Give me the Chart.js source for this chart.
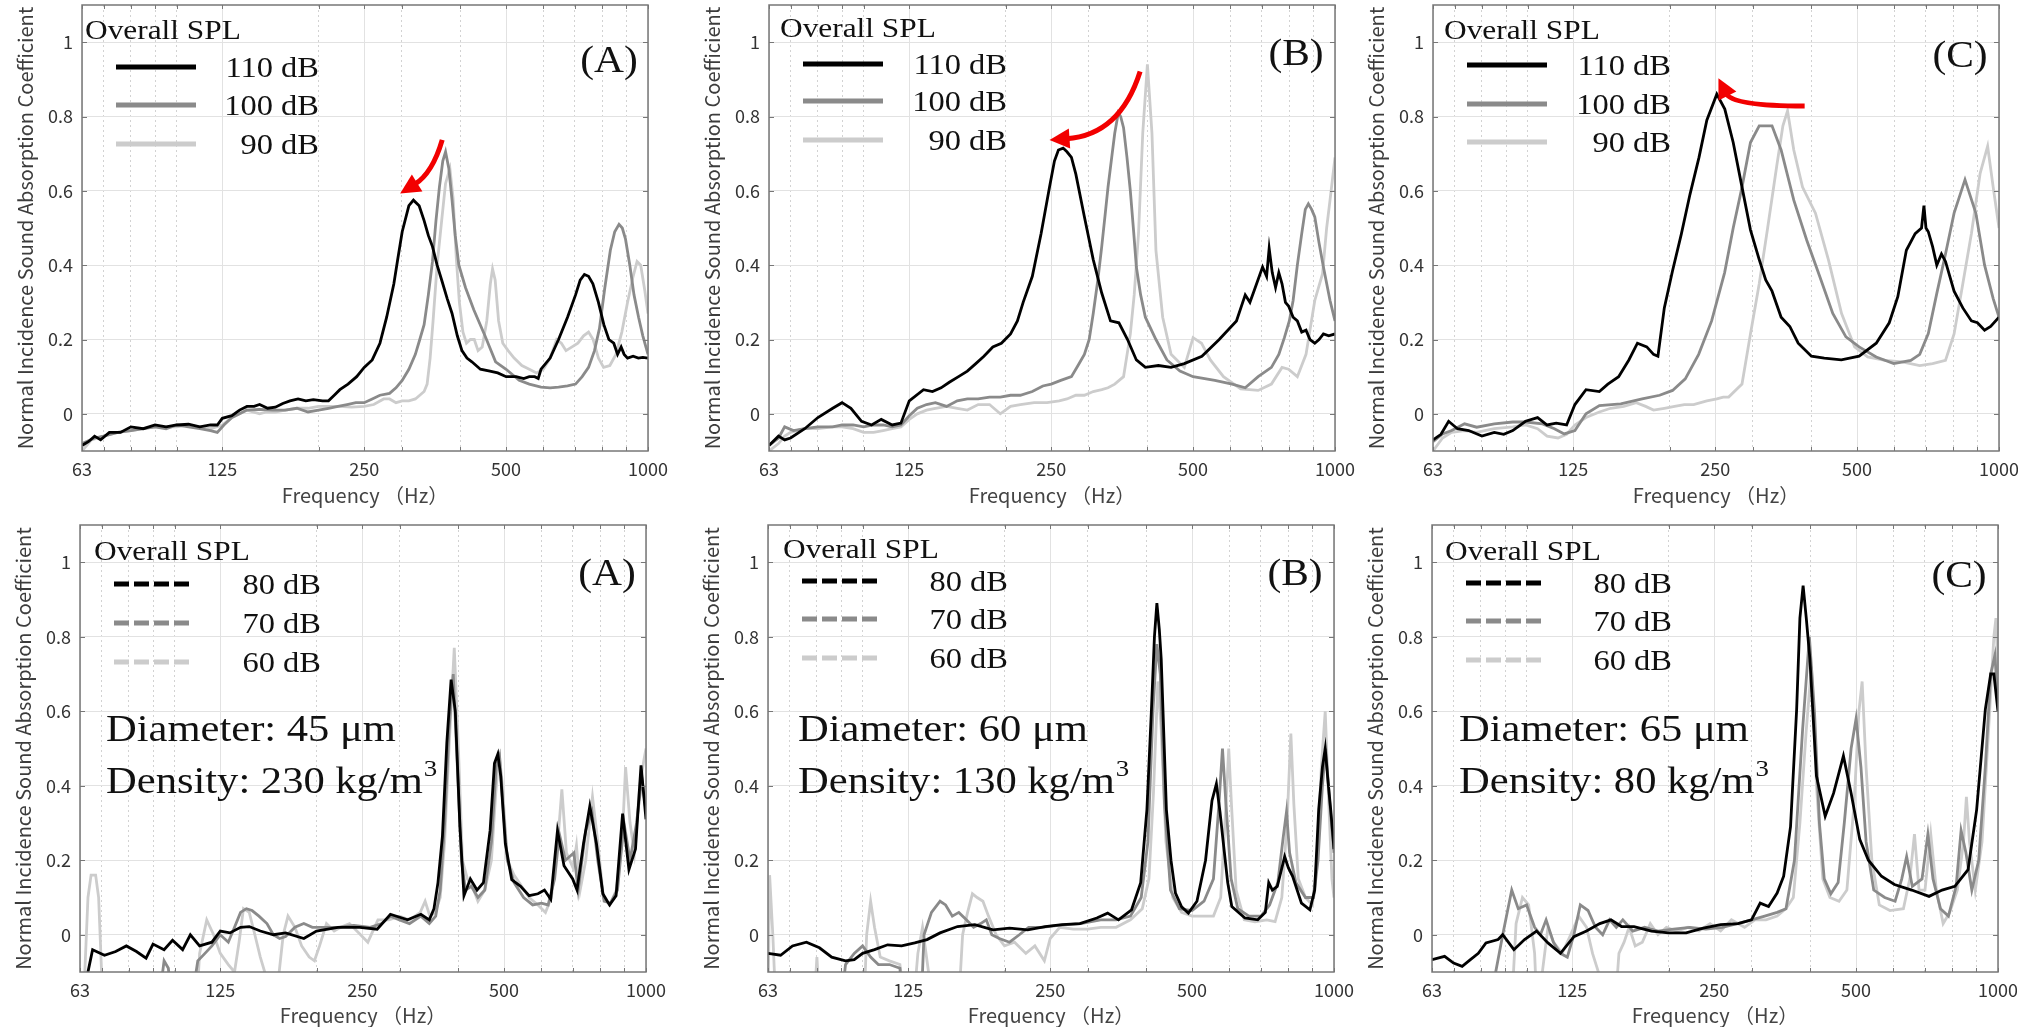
<!DOCTYPE html>
<html>
<head>
<meta charset="utf-8">
<script src="https://cdn.jsdelivr.net/npm/chart.js@4.4.0/dist/chart.umd.min.js"></script>
<style>
  html, body { margin: 0; padding: 0; background: #fff; overflow: hidden; width: 2018px; height: 1027px; }
  .panel { position: absolute; }
</style>
</head>
<body>
<div class="panel" id="p0"><canvas id="c0"></canvas></div>
<div class="panel" id="p1"><canvas id="c1"></canvas></div>
<div class="panel" id="p2"><canvas id="c2"></canvas></div>
<div class="panel" id="p3"><canvas id="c3"></canvas></div>
<div class="panel" id="p4"><canvas id="c4"></canvas></div>
<div class="panel" id="p5"><canvas id="c5"></canvas></div>
<script>
// ---- axes ----
const xTicks = [63, 70, 80, 90, 100, 125, 200, 250, 300, 400, 500, 600, 700, 800, 900, 1000];
const xLabels = [63, 125, 250, 500, 1000];
const yTicks = [0, 0.2, 0.4, 0.6, 0.8, 1];

const topNames = ['110 dB', '100 dB', '90 dB'];
const bottomNames = ['80 dB', '70 dB', '60 dB'];
const letters = ['(A)', '(B)', '(C)'];
const diameters = ['Diameter: 45 \u03bcm', 'Diameter: 60 \u03bcm', 'Diameter: 65 \u03bcm'];
const densities = ['Density: 230 kg/m', 'Density: 130 kg/m', 'Density: 80 kg/m'];

// ---- data: [frequency Hz, absorption coefficient] ----
// top row, high level (A)
const tA110 = [[63,-0.085],[65,-0.075],[67,-0.06],[69,-0.07],[72,-0.05],[76,-0.05],[80,-0.035],[85,-0.04],[90,-0.03],[95,-0.035],[100,-0.03],[106,-0.028],[112,-0.035],[118,-0.03],[122,-0.03],[125,-0.012],[131,-0.005],[136,0.01],[141,0.02],[146,0.02],[150,0.025],[156,0.015],[162,0.018],[168,0.028],[174,0.035],[181,0.04],[188,0.035],[195,0.038],[204,0.035],[210,0.035],[216,0.05],[222,0.065],[231,0.08],[241,0.1],[250,0.125],[260,0.145],[270,0.19],[279,0.26],[289,0.35],[294,0.41],[301,0.49],[311,0.56],[318,0.575],[327,0.56],[335,0.52],[342,0.48],[349,0.45],[357,0.4],[365,0.36],[375,0.31],[384,0.27],[394,0.21],[403,0.17],[413,0.15],[423,0.14],[441,0.12],[462,0.115],[480,0.11],[500,0.1],[525,0.1],[545,0.095],[560,0.1],[575,0.1],[585,0.095],[593,0.12],[620,0.15],[646,0.2],[675,0.26],[702,0.32],[718,0.36],[733,0.375],[748,0.37],[764,0.35],[785,0.3],[806,0.24],[826,0.2],[846,0.19],[862,0.16],[877,0.18],[890,0.16],[905,0.15],[930,0.155],[954,0.15],[975,0.152],[1000,0.15]];
const tA100 = [[63,-0.08],[67,-0.065],[70,-0.06],[75,-0.05],[80,-0.045],[85,-0.04],[90,-0.035],[95,-0.04],[100,-0.03],[106,-0.035],[112,-0.04],[118,-0.045],[122,-0.05],[126,-0.03],[131,-0.01],[136,0.0],[141,0.01],[150,0.012],[160,0.01],[170,0.01],[180,0.015],[190,0.005],[200,0.01],[210,0.015],[220,0.02],[230,0.025],[240,0.03],[250,0.03],[260,0.04],[270,0.05],[283,0.055],[292,0.07],[301,0.09],[311,0.12],[321,0.16],[328,0.2],[335,0.24],[342,0.32],[349,0.41],[355,0.52],[361,0.61],[367,0.68],[372,0.705],[378,0.66],[384,0.575],[390,0.48],[397,0.4],[410,0.34],[427,0.28],[451,0.21],[475,0.14],[500,0.12],[533,0.09],[560,0.08],[593,0.072],[620,0.07],[646,0.072],[675,0.075],[702,0.08],[725,0.1],[748,0.125],[770,0.17],[789,0.23],[810,0.34],[832,0.44],[850,0.49],[868,0.51],[882,0.5],[896,0.47],[915,0.4],[934,0.32],[955,0.26],[975,0.21],[1000,0.16]];
const tA90 = [[63,-0.1],[66,-0.07],[70,-0.06],[75,-0.05],[80,-0.045],[85,-0.04],[90,-0.035],[95,-0.035],[100,-0.035],[106,-0.03],[112,-0.035],[118,-0.04],[125,-0.03],[131,-0.01],[136,0.0],[141,0.01],[150,0.0],[155,0.005],[162,0.005],[170,0.01],[180,0.015],[190,0.015],[200,0.02],[210,0.02],[222,0.02],[235,0.018],[250,0.02],[262,0.025],[275,0.04],[283,0.04],[292,0.03],[301,0.035],[311,0.035],[321,0.04],[328,0.05],[335,0.06],[340,0.08],[345,0.15],[350,0.25],[357,0.4],[365,0.52],[372,0.62],[380,0.66],[386,0.58],[392,0.42],[398,0.3],[405,0.22],[412,0.19],[420,0.2],[428,0.2],[436,0.17],[445,0.18],[455,0.25],[463,0.35],[468,0.39],[474,0.36],[482,0.25],[492,0.19],[505,0.17],[520,0.15],[540,0.13],[560,0.12],[580,0.11],[600,0.12],[620,0.15],[640,0.2],[655,0.19],[670,0.17],[690,0.18],[710,0.19],[730,0.21],[748,0.22],[765,0.2],[785,0.15],[805,0.125],[830,0.13],[855,0.16],[880,0.22],[905,0.3],[930,0.37],[948,0.41],[965,0.4],[985,0.33],[1000,0.27]];

// top row (B)
const tB110 = [[63,-0.085],[66,-0.06],[68,-0.07],[70,-0.065],[75,-0.04],[80,-0.01],[86,0.015],[90,0.03],[94,0.015],[99,-0.02],[104,-0.03],[109,-0.015],[115,-0.03],[120,-0.025],[125,0.035],[134,0.065],[140,0.06],[146,0.07],[152,0.085],[159,0.1],[166,0.115],[173,0.135],[180,0.155],[188,0.18],[196,0.19],[205,0.215],[212,0.25],[218,0.3],[228,0.37],[238,0.485],[248,0.61],[254,0.68],[259,0.71],[265,0.715],[270,0.705],[276,0.69],[282,0.645],[294,0.53],[307,0.415],[320,0.325],[334,0.25],[348,0.245],[363,0.2],[379,0.145],[396,0.125],[422,0.13],[449,0.125],[479,0.135],[522,0.155],[568,0.2],[618,0.25],[645,0.32],[660,0.3],[673,0.33],[702,0.395],[716,0.37],[725,0.445],[736,0.38],[748,0.34],[760,0.38],[772,0.35],[785,0.3],[797,0.29],[815,0.26],[832,0.25],[850,0.22],[868,0.225],[885,0.2],[906,0.19],[925,0.2],[945,0.215],[970,0.21],[1000,0.215]];
const tB100 = [[63,-0.085],[66,-0.065],[68,-0.035],[71,-0.045],[75,-0.04],[80,-0.035],[86,-0.035],[90,-0.03],[95,-0.03],[100,-0.035],[105,-0.03],[110,-0.03],[115,-0.035],[120,-0.03],[125,-0.005],[130,0.015],[136,0.025],[142,0.03],[150,0.02],[158,0.035],[166,0.04],[175,0.04],[185,0.045],[195,0.045],[205,0.05],[215,0.05],[228,0.06],[240,0.075],[250,0.08],[262,0.09],[276,0.1],[285,0.13],[294,0.16],[301,0.2],[307,0.27],[314,0.36],[320,0.45],[325,0.53],[330,0.61],[336,0.69],[341,0.755],[347,0.81],[351,0.8],[356,0.77],[362,0.69],[368,0.6],[374,0.49],[379,0.395],[387,0.32],[396,0.26],[417,0.2],[440,0.145],[469,0.115],[500,0.1],[556,0.09],[605,0.08],[645,0.07],[687,0.1],[733,0.125],[760,0.16],[781,0.205],[800,0.25],[815,0.305],[832,0.4],[850,0.485],[865,0.55],[878,0.565],[892,0.55],[906,0.53],[925,0.46],[945,0.395],[976,0.305],[1000,0.25]];
const tB90 = [[63,-0.1],[66,-0.08],[68,-0.06],[70,-0.05],[75,-0.04],[80,-0.04],[86,-0.035],[90,-0.035],[95,-0.04],[100,-0.05],[105,-0.05],[110,-0.045],[115,-0.04],[120,-0.035],[125,-0.015],[130,0.0],[136,0.01],[142,0.015],[150,0.02],[158,0.015],[166,0.01],[175,0.025],[185,0.025],[195,0.0],[205,0.02],[215,0.025],[230,0.03],[245,0.03],[260,0.035],[270,0.04],[282,0.05],[294,0.05],[307,0.06],[320,0.065],[330,0.07],[341,0.08],[356,0.1],[368,0.215],[375,0.32],[383,0.485],[391,0.755],[400,0.94],[409,0.755],[417,0.44],[431,0.26],[449,0.16],[479,0.125],[500,0.205],[521,0.19],[544,0.145],[580,0.1],[631,0.067],[687,0.063],[733,0.08],[772,0.125],[797,0.12],[832,0.1],[868,0.16],[906,0.305],[941,0.377],[960,0.5],[976,0.575],[1000,0.69]];

// top row (C)
const tC110 = [[63,-0.07],[65.5,-0.055],[68,-0.02],[71,-0.04],[75,-0.045],[80,-0.06],[85,-0.05],[89,-0.055],[93,-0.045],[99,-0.02],[105,-0.01],[110,-0.03],[115,-0.025],[121,-0.03],[126,0.025],[133,0.065],[142,0.06],[148,0.08],[156,0.1],[164,0.145],[171,0.19],[179,0.18],[185,0.16],[189,0.155],[195,0.285],[203,0.385],[212,0.485],[221,0.59],[231,0.69],[240,0.79],[252,0.86],[262,0.82],[273,0.73],[285,0.61],[297,0.495],[310,0.415],[320,0.36],[330,0.33],[345,0.26],[360,0.235],[375,0.19],[400,0.155],[426,0.15],[463,0.145],[505,0.155],[549,0.19],[585,0.245],[610,0.315],[636,0.44],[664,0.485],[685,0.5],[693,0.56],[700,0.5],[708,0.49],[723,0.45],[738,0.4],[755,0.43],[770,0.41],[803,0.33],[838,0.285],[874,0.25],[900,0.245],[932,0.225],[960,0.235],[1000,0.26]];
const tC100 = [[63,-0.075],[66,-0.054],[69,-0.045],[73.5,-0.027],[78,-0.036],[85,-0.027],[93,-0.022],[99,-0.022],[107.6,-0.027],[114,-0.04],[119.6,-0.054],[126,-0.045],[133,0.0],[142,0.022],[157.6,0.027],[175,0.04],[190.6,0.05],[203,0.063],[216,0.094],[230.6,0.16],[245.7,0.25],[261.8,0.38],[273,0.5],[285,0.61],[297,0.73],[310,0.775],[330,0.775],[345,0.71],[367,0.575],[391,0.467],[417,0.368],[444,0.27],[473.5,0.207],[505,0.18],[549,0.153],[598,0.135],[650,0.144],[679,0.16],[708,0.216],[738,0.324],[770,0.43],[803,0.54],[847,0.63],[893,0.54],[932,0.4],[972,0.31],[1000,0.26]];
const tC90 = [[63,-0.1],[66,-0.065],[69,-0.05],[73.5,-0.045],[78,-0.05],[85,-0.04],[93,-0.035],[99,-0.03],[105,-0.04],[110,-0.06],[116,-0.065],[121,-0.055],[126,-0.03],[133,-0.01],[142,0.005],[150,0.015],[160,0.02],[170,0.03],[178,0.02],[185,0.01],[195,0.015],[205,0.02],[215,0.025],[225,0.025],[240,0.035],[252,0.04],[260,0.045],[267,0.045],[285,0.08],[297,0.215],[310,0.35],[323,0.5],[337.5,0.665],[348,0.775],[356,0.815],[367,0.71],[383,0.61],[408,0.54],[435,0.413],[463.5,0.27],[494,0.18],[526.5,0.153],[573,0.144],[623,0.14],[679,0.13],[723,0.135],[770,0.144],[803,0.215],[838,0.35],[874,0.485],[912,0.647],[946,0.72],[972,0.61],[1000,0.5]];

// bottom row (A)
const bA80 = [[63,-0.14],[65,-0.12],[67,-0.04],[71,-0.055],[75,-0.045],[79,-0.03],[83,-0.045],[87,-0.063],[90,-0.025],[95,-0.04],[99,-0.015],[104,-0.04],[108,0.0],[113,-0.03],[120,-0.02],[125,0.01],[131,0.005],[138,0.02],[144,0.022],[152,0.01],[162,0.0],[172,0.005],[188,-0.01],[200,0.01],[222,0.02],[247,0.02],[269,0.015],[287,0.055],[312,0.04],[333,0.055],[347,0.04],[355,0.07],[362,0.14],[370,0.265],[378,0.515],[386,0.685],[394,0.6],[403,0.29],[411,0.105],[424,0.15],[438,0.12],[452,0.14],[467,0.28],[477,0.46],[485,0.485],[492,0.425],[503,0.245],[519,0.148],[542,0.13],[565,0.105],[590,0.11],[609,0.12],[628,0.095],[649,0.28],[670,0.185],[699,0.15],[714,0.12],[737,0.245],[760,0.345],[785,0.245],[810,0.11],[837,0.08],[864,0.105],[892,0.325],[920,0.175],[950,0.23],[976,0.455],[1000,0.31]];
const bA70 = [[63,-0.3],[90,-0.3],[95,-0.07],[97,-0.09],[99,-0.2],[108,-0.2],[112,-0.07],[116,-0.05],[120,-0.03],[125,0.0],[130,-0.02],[134,0.02],[138,0.06],[142,0.07],[146,0.065],[151,0.05],[157,0.03],[162,0.0],[167,-0.01],[172,-0.005],[180,0.02],[188,0.03],[196,0.02],[205,0.02],[222,0.02],[240,0.025],[260,0.02],[275,0.03],[287,0.05],[300,0.04],[315,0.03],[333,0.05],[347,0.03],[358,0.05],[366,0.12],[374,0.3],[382,0.55],[390,0.7],[398,0.45],[406,0.2],[414,0.12],[426,0.13],[440,0.1],[455,0.12],[470,0.25],[481,0.45],[489,0.48],[497,0.35],[508,0.2],[525,0.14],[550,0.1],[575,0.08],[600,0.085],[620,0.08],[640,0.15],[655,0.27],[675,0.2],[703,0.22],[718,0.12],[745,0.28],[768,0.33],[790,0.2],[815,0.09],[840,0.085],[870,0.12],[898,0.3],[925,0.2],[955,0.3],[980,0.42],[1000,0.33]];
const bA60 = [[63,-0.3],[64.5,-0.1],[65.5,0.1],[66.5,0.16],[68,0.16],[69,0.1],[70,-0.1],[71,-0.3],[110,-0.3],[113,-0.05],[117,0.04],[121,0.0],[125,-0.05],[130,-0.08],[134,-0.1],[137,-0.02],[140,0.07],[144,0.06],[148,0.0],[152,-0.06],[157,-0.12],[166,-0.12],[170,0.0],[174,0.05],[180,0.02],[186,-0.03],[193,-0.06],[198,-0.07],[203,-0.03],[210,0.03],[218,0.01],[225,0.02],[235,0.03],[248,0.0],[257,-0.02],[270,0.04],[285,0.04],[300,0.05],[315,0.04],[332,0.06],[340,0.09],[348,0.05],[357,0.06],[366,0.1],[374,0.25],[382,0.5],[392,0.77],[400,0.5],[408,0.2],[418,0.15],[428,0.13],[440,0.09],[455,0.12],[470,0.2],[480,0.38],[488,0.49],[496,0.4],[508,0.2],[525,0.16],[545,0.13],[565,0.1],[590,0.08],[612,0.06],[630,0.1],[650,0.25],[663,0.39],[678,0.22],[700,0.18],[712,0.24],[725,0.12],[745,0.2],[770,0.37],[790,0.25],[812,0.1],[838,0.08],[865,0.12],[890,0.25],[905,0.45],[925,0.3],[945,0.22],[970,0.4],[990,0.47],[1000,0.5]];

// bottom row (B)
const bB80 = [[63,-0.05],[67,-0.055],[71,-0.03],[76,-0.02],[81,-0.035],[86,-0.06],[92,-0.07],[96,-0.067],[100,-0.05],[106,-0.04],[113,-0.027],[121,-0.03],[129,-0.022],[137,-0.013],[146,0.005],[159,0.022],[173,0.027],[189,0.013],[205,0.018],[224,0.013],[244,0.022],[265,0.027],[289,0.03],[314,0.045],[331,0.058],[349,0.04],[372,0.067],[389,0.14],[401,0.336],[410,0.605],[416,0.8],[421,0.89],[426,0.82],[430,0.74],[441,0.336],[451,0.2],[461,0.112],[475,0.075],[491,0.058],[512,0.09],[534,0.2],[551,0.36],[563,0.405],[573,0.33],[582,0.25],[595,0.14],[607,0.076],[647,0.045],[689,0.04],[715,0.06],[727,0.14],[740,0.12],[758,0.13],[786,0.21],[800,0.18],[817,0.157],[853,0.085],[889,0.067],[910,0.12],[928,0.336],[945,0.45],[958,0.5],[970,0.42],[985,0.33],[1000,0.23]];
const bB70 = [[63,-0.3],[88,-0.3],[92,-0.08],[96,-0.05],[100,-0.03],[104,-0.06],[108,-0.08],[114,-0.08],[120,-0.09],[124,-0.3],[132,-0.3],[135,0.0],[140,0.06],[146,0.09],[150,0.08],[155,0.05],[160,0.06],[166,0.04],[172,0.02],[178,0.03],[183,0.04],[188,0.0],[195,-0.01],[205,-0.02],[215,0.0],[225,0.02],[240,0.02],[260,0.025],[290,0.03],[320,0.04],[345,0.04],[370,0.05],[390,0.1],[403,0.25],[413,0.6],[421,0.78],[428,0.7],[437,0.35],[450,0.12],[470,0.07],[500,0.065],[530,0.09],[555,0.15],[570,0.35],[580,0.5],[590,0.35],[605,0.15],[625,0.07],[660,0.05],[700,0.05],[730,0.08],[760,0.14],[780,0.26],[793,0.33],[805,0.22],[830,0.14],[870,0.1],[905,0.1],[925,0.2],[945,0.4],[960,0.5],[980,0.35],[1000,0.22]];
const bB60 = [[63,-0.2],[63.5,0.16],[64.5,0.0],[66,-0.3],[78,-0.3],[80,-0.06],[82,-0.3],[100,-0.3],[102,0.0],[104,0.09],[106,0.02],[109,-0.06],[114,-0.07],[120,-0.08],[126,-0.3],[131,-0.05],[134,0.02],[138,-0.1],[142,-0.3],[158,-0.3],[163,0.0],[167,0.06],[171,0.11],[175,0.1],[180,0.09],[185,0.05],[192,0.0],[200,-0.03],[210,-0.02],[222,-0.05],[232,-0.03],[243,-0.07],[250,-0.01],[262,0.02],[280,0.015],[300,0.015],[320,0.02],[345,0.02],[370,0.04],[392,0.07],[405,0.15],[414,0.38],[423,0.68],[430,0.55],[440,0.25],[455,0.1],[475,0.06],[500,0.05],[530,0.05],[555,0.05],[575,0.1],[590,0.35],[598,0.5],[606,0.35],[620,0.12],[645,0.04],[680,0.035],[720,0.04],[750,0.035],[775,0.1],[795,0.3],[810,0.54],[822,0.35],[840,0.15],[870,0.1],[900,0.08],[920,0.2],[940,0.45],[958,0.6],[975,0.35],[990,0.15],[1000,0.1]];

// bottom row (C)
const bC80 = [[63,-0.067],[67,-0.058],[70,-0.076],[73,-0.085],[76,-0.067],[79,-0.05],[82,-0.022],[87,-0.013],[89,0.0],[94,-0.04],[99,-0.013],[105,0.01],[111,-0.022],[118,-0.05],[126,-0.005],[134,0.01],[143,0.03],[151,0.04],[159,0.022],[169,0.022],[184,0.01],[200,0.005],[218,0.005],[237,0.018],[258,0.027],[281,0.03],[300,0.04],[313,0.085],[326,0.076],[340,0.112],[351,0.157],[363,0.29],[374,0.605],[380,0.85],[386,0.937],[392,0.85],[399,0.74],[412,0.426],[430,0.318],[448,0.38],[470,0.48],[488,0.38],[509,0.256],[531,0.2],[566,0.157],[603,0.135],[656,0.12],[714,0.103],[761,0.12],[810,0.13],[864,0.175],[901,0.336],[940,0.605],[965,0.7],[980,0.7],[1000,0.6]];
const bC70 = [[63,-0.3],[84,-0.3],[86,-0.1],[89,0.0],[93,0.12],[96,0.07],[100,0.08],[104,0.02],[107,0.0],[110,0.04],[114,-0.02],[118,-0.05],[122,-0.06],[126,0.0],[130,0.08],[135,0.065],[140,0.02],[145,0.0],[150,0.04],[155,0.02],[160,0.04],[168,0.01],[178,0.02],[190,0.01],[205,0.015],[222,0.02],[240,0.015],[260,0.02],[280,0.03],[300,0.04],[320,0.05],[340,0.06],[355,0.07],[370,0.2],[385,0.55],[398,0.8],[408,0.6],[418,0.3],[428,0.15],[442,0.11],[458,0.14],[472,0.3],[488,0.5],[500,0.58],[512,0.45],[525,0.25],[545,0.12],[575,0.1],[605,0.09],[625,0.15],[640,0.21],[658,0.13],[690,0.15],[710,0.27],[728,0.15],[755,0.07],[785,0.05],[815,0.13],[835,0.28],[855,0.22],[880,0.12],[910,0.2],[940,0.45],[965,0.7],[985,0.75],[1000,0.62]];
const bC60 = [[63,-0.3],[92,-0.3],[95,0.03],[98,0.1],[101,0.08],[104,-0.05],[106,-0.3],[108,-0.1],[111,0.02],[114,-0.02],[119,-0.05],[124,0.0],[129,0.05],[134,0.02],[138,-0.05],[142,-0.1],[146,-0.3],[152,-0.3],[157,-0.05],[161,-0.02],[165,0.02],[170,-0.03],[176,-0.02],[183,0.03],[190,0.0],[198,0.02],[208,0.01],[220,0.02],[232,0.01],[245,0.03],[258,0.01],[272,0.04],[290,0.02],[305,0.04],[322,0.04],[340,0.05],[355,0.07],[368,0.1],[380,0.3],[392,0.55],[402,0.72],[412,0.4],[425,0.15],[440,0.1],[460,0.09],[478,0.12],[495,0.35],[507,0.6],[515,0.68],[525,0.45],[540,0.2],[560,0.08],[590,0.065],[630,0.07],[650,0.15],[665,0.27],[680,0.12],[700,0.12],[720,0.27],[740,0.12],[765,0.03],[790,0.06],[820,0.12],[845,0.25],[857,0.37],[870,0.25],[895,0.12],[925,0.25],[955,0.55],[980,0.8],[990,0.85],[1000,0.7]];

// red arrows (start, bend, tip) in data space
const arrowA = [[366, 0.737], [349, 0.647], [298, 0.593]];
const arrowB = [[386, 0.921], [350, 0.75], [248, 0.737]];
const arrowC = [[387, 0.828], [272, 0.828], [254, 0.903]];

const seriesColors = ['#000000', '#8a8a8a', '#cccccc'];
const SX = 1.12;
const SERIF = '"Liberation Serif", "Times New Roman", serif';
const SANS = '"Noto Sans CJK JP", "Noto Sans", sans-serif';
const Y_W = 82;
const CW = 566;

const panels = [
  { left: 82,   top: 5,   h: 446, xh: 62, pr: 30, names: topNames, dashed: false, data: [tA110, tA100, tA90], titleX: 3,  titleY: 34, rows: [62, 100, 139], textR: 237, letter: 0, letterY: 57, arrow: arrowA },
  { left: 769,  top: 5,   h: 446, xh: 62, pr: 30, names: topNames, dashed: false, data: [tB110, tB100, tB90], titleX: 11, titleY: 32, rows: [59, 96, 135], textR: 238, letter: 1, letterY: 50, arrow: arrowB },
  { left: 1433, top: 5,   h: 446, xh: 62, pr: 19, names: topNames, dashed: false, data: [tC110, tC100, tC90], titleX: 11, titleY: 34, rows: [60, 99, 137], textR: 238, letter: 2, letterY: 52, arrow: arrowC },
  { left: 80,   top: 525, h: 447, xh: 55, pr: 30, names: bottomNames, dashed: true, data: [bA80, bA70, bA60], titleX: 14, titleY: 35, rows: [59, 98, 137], textR: 241, letter: 0, letterY: 50, note: 0, noteX: 26 },
  { left: 768,  top: 525, h: 447, xh: 55, pr: 30, names: bottomNames, dashed: true, data: [bB80, bB70, bB60], titleX: 15, titleY: 33, rows: [56, 94, 133], textR: 240, letter: 1, letterY: 50, note: 1, noteX: 30 },
  { left: 1432, top: 525, h: 447, xh: 55, pr: 19, names: bottomNames, dashed: true, data: [bC80, bC70, bC60], titleX: 13, titleY: 35, rows: [58, 96, 135], textR: 240, letter: 2, letterY: 52, note: 2, noteX: 27 }
];

function serifText(ctx, text, x, y, size, align, baseline) {
  ctx.save();
  ctx.translate(x, y);
  ctx.scale(SX, 1);
  ctx.font = size + 'px ' + SERIF;
  ctx.textAlign = align;
  ctx.textBaseline = baseline || 'alphabetic';
  ctx.fillStyle = '#111';
  ctx.fillText(text, 0, 0);
  const w = ctx.measureText(text).width * SX;
  ctx.restore();
  return w;
}

function decor(p) {
  return {
    id: 'decor',
    afterDraw(chart) {
      const ctx = chart.ctx;
      const a = chart.chartArea;
      const xs = chart.scales.x, ys = chart.scales.y;
      ctx.save();
      // inner ticks + box
      ctx.strokeStyle = '#777';
      ctx.lineWidth = 1;
      ctx.beginPath();
      xTicks.forEach(v => {
        const px = Math.round(xs.getPixelForValue(v)) + 0.5;
        ctx.moveTo(px, a.bottom); ctx.lineTo(px, a.bottom - 4);
        ctx.moveTo(px, a.top); ctx.lineTo(px, a.top + 4);
      });
      yTicks.forEach(v => {
        const py = Math.round(ys.getPixelForValue(v)) + 0.5;
        ctx.moveTo(a.left, py); ctx.lineTo(a.left + 5, py);
        ctx.moveTo(a.right, py); ctx.lineTo(a.right - 5, py);
      });
      ctx.stroke();
      ctx.lineWidth = 1.5;
      ctx.strokeRect(a.left, a.top, a.right - a.left, a.bottom - a.top);

      // legend
      serifText(ctx, 'Overall SPL', a.left + p.titleX, a.top + p.titleY, 28, 'left');
      p.names.forEach((n, i) => {
        const ry = a.top + p.rows[i];
        ctx.save();
        ctx.strokeStyle = seriesColors[i];
        ctx.lineWidth = 5;
        ctx.setLineDash(p.dashed ? [15, 5] : []);
        ctx.beginPath();
        ctx.moveTo(a.left + 34, ry);
        ctx.lineTo(a.left + 114, ry);
        ctx.stroke();
        ctx.restore();
        serifText(ctx, n, a.left + p.textR, ry + 10, 29, 'right');
      });
      serifText(ctx, letters[p.letter], a.left + 527, a.top + p.letterY, 37, 'center', 'middle');

      // diameter / density note
      if (p.note !== undefined) {
        serifText(ctx, diameters[p.note], a.left + p.noteX, a.top + 216, 38, 'left');
        const w = serifText(ctx, densities[p.note], a.left + p.noteX, a.top + 268, 38, 'left');
        serifText(ctx, '3', a.left + p.noteX + w + 1, a.top + 251, 24, 'left');
      }

      // red arrow
      if (p.arrow) {
        const pts = p.arrow.map(q => [xs.getPixelForValue(q[0]), ys.getPixelForValue(q[1])]);
        const s = pts[0], c = pts[1], t = pts[2];
        const ang = Math.atan2(t[1] - c[1], t[0] - c[0]);
        const hl = 20, hw = 10;
        const bx = t[0] - hl * Math.cos(ang), by = t[1] - hl * Math.sin(ang);
        ctx.strokeStyle = '#f20000';
        ctx.fillStyle = '#f20000';
        ctx.lineWidth = 5;
        ctx.beginPath();
        ctx.moveTo(s[0], s[1]);
        ctx.quadraticCurveTo(c[0], c[1], bx + 3 * Math.cos(ang), by + 3 * Math.sin(ang));
        ctx.stroke();
        ctx.beginPath();
        ctx.moveTo(t[0], t[1]);
        ctx.lineTo(bx + hw * Math.sin(ang), by - hw * Math.cos(ang));
        ctx.lineTo(bx - hw * Math.sin(ang), by + hw * Math.cos(ang));
        ctx.closePath();
        ctx.fill();
      }
      ctx.restore();
    }
  };
}

function isMajor(v) { return xLabels.includes(v); }

panels.forEach((p, k) => {
  const W = Y_W + CW + p.pr;
  const H = 5 + p.h + p.xh;
  const div = document.getElementById('p' + k);
  div.style.left = (p.left - Y_W) + 'px';
  div.style.top = (p.top - 5) + 'px';
  const cv = document.getElementById('c' + k);
  cv.width = W; cv.height = H;
  cv.style.width = W + 'px'; cv.style.height = H + 'px';

  const datasets = p.data.map((d, i) => ({
    label: p.names[i],
    data: d.map(q => ({ x: q[0], y: q[1] })),
    borderColor: seriesColors[i],
    borderWidth: 2.8,
    pointRadius: 0,
    tension: 0,
    fill: false
  }));

  new Chart(cv, {
    type: 'line',
    data: { datasets },
    options: {
      responsive: false,
      maintainAspectRatio: false,
      animation: false,
      events: [],
      layout: { padding: { top: 5, right: p.pr, left: 0, bottom: 0 }, autoPadding: false },
      plugins: { legend: { display: false }, tooltip: { enabled: false } },
      scales: {
        x: {
          type: 'logarithmic',
          min: 63, max: 1000,
          afterBuildTicks: s => { s.ticks = xTicks.map(v => ({ value: v })); },
          afterFit: s => { s.height = p.xh; s.paddingLeft = 0; s.paddingRight = 0; },
          ticks: {
            autoSkip: false, maxRotation: 0, minRotation: 0, padding: 7,
            color: '#333', font: { family: SANS, size: 18 },
            callback: v => isMajor(v) ? String(v) : ''
          },
          grid: {
            drawTicks: false,
            color: c => (c.tick && isMajor(c.tick.value)) ? '#e2e2e2' : '#d2d2d2',
            lineWidth: 1
          },
          border: {
            display: false,
            dash: c => (c.tick && !isMajor(c.tick.value)) ? [2, 3] : []
          },
          title: {
            display: true, text: 'Frequency （Hz）', color: '#444',
            font: { family: SANS, size: 20 },
            padding: { top: 0, bottom: p.xh === 62 ? 6 : 0 }
          }
        },
        y: {
          type: 'linear',
          min: -0.1, max: 1.1,
          afterBuildTicks: s => { s.ticks = yTicks.map(v => ({ value: v })); },
          afterFit: s => { s.width = Y_W; s.paddingTop = 0; s.paddingBottom = 0; },
          ticks: {
            padding: 9, color: '#333', font: { family: SANS, size: 18 },
            callback: v => String(Math.round(v * 10) / 10)
          },
          grid: { drawTicks: false, color: '#e2e2e2', lineWidth: 1 },
          border: { display: false },
          title: {
            display: true, text: 'Normal Incidence Sound Absorption Coefficient', color: '#3c3c3c',
            font: { family: SANS, size: 20 },
            padding: { top: 13, bottom: 0 }
          }
        }
      }
    },
    plugins: [decor(p)]
  });
});
</script>
</body>
</html>
